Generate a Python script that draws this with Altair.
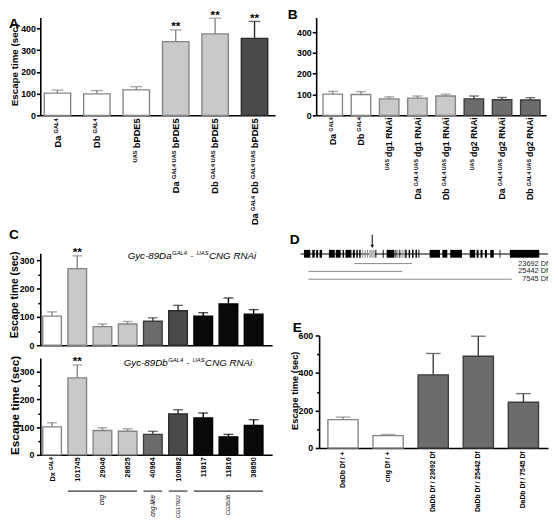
import re
import altair as alt
import pandas as pd

FONT = "Liberation Sans"

# ---------------- data ----------------
a_labels = ["Da ^(GAL4)", "Db ^(GAL4)", "^(UAS) bPDE5", "Da ^(GAL4 UAS) bPDE5",
            "Db ^(GAL4 UAS) bPDE5", "Da ^(GAL4) Db ^(GAL4 UAS) bPDE5"]
a_vals = [102, 99, 117, 339, 375, 354]
a_errs = [14, 15, 15, 54, 72, 78]
a_shades = ["white", "white", "white", "light", "light", "dark"]
a_sig = ["", "", "", "**", "**", "**"]

b_labels = ["Da ^(GAL4)", "Db ^(GAL4)", "^(UAS) dg1 RNAi", "Da ^(GAL4 UAS) dg1 RNAi",
            "Db ^(GAL4 UAS) dg1 RNAi", "^(UAS) dg2 RNAi", "Da ^(GAL4 UAS) dg2 RNAi",
            "Db ^(GAL4 UAS) dg2 RNAi"]
b_vals = [102, 100, 79, 83, 93, 79, 75, 74]
b_errs = [13, 14, 10, 10, 9, 14, 11, 11]
b_shades = ["white", "white", "light", "light", "light", "mid", "mid", "mid"]

c_labels = ["Dx ^(GAL4)", "101745", "29046", "28625", "40964", "100882", "11817", "11816", "38850"]
c_shades = ["white", "light", "light", "light", "mid", "dark", "black", "black", "black"]
c1_vals = [103, 271, 66, 75, 85, 122, 103, 146, 110]
c1_errs = [15, 45, 9, 9, 12, 19, 12, 21, 16]
c1_sig = ["", "**", "", "", "", "", "", "", ""]
c2_vals = [101, 278, 88, 85, 74, 148, 133, 65, 106]
c2_errs = [15, 47, 10, 9, 11, 15, 18, 9, 21]
c2_sig = ["", "**", "", "", "", "", "", "", ""]
c1_title = "Gyc-89Da^(GAL4) - ^(UAS)CNG RNAi"
c2_title = "Gyc-89Db^(GAL4) - ^(UAS)CNG RNAi"
c_groups = ["cng", "cng-like", "CG17922", "CG3536"]
c_group_first = ["101745", "40964", "100882", "11817"]
c_group_last = ["28625", "40964", "100882", "38850"]
c_group_mid = ["29046", "40964", "100882", "11816"]
c_group_italic = [True, True, False, False]

# D: gene model (positions along the locus, schematic units)
d_black_start = [7.5, 16, 20, 23.5, 33, 40, 47, 50, 57.5, 61, 64, 80.5, 88, 92, 101, 105, 111,
                 114.5, 118, 121.5, 124.5, 136, 149, 157, 177, 184, 188, 192.5, 198, 207.5, 218]
d_black_end = [14, 18.5, 22, 26, 39, 45, 48.5, 56, 59.5, 62.5, 65.5, 81.5, 89, 100, 102, 106, 112.5,
               116, 119.5, 123, 125.5, 146.5, 154, 169, 182.5, 186, 190, 194.5, 201.5, 208.3, 248]
d_gray_start = [67, 69.5, 72, 103, 107.5, 109.5]
d_gray_end = [68, 70.5, 73, 104, 108.5, 110.5]
d_hit_start = [74]
d_hit_end = [80]
d_arrow_pos = [77.3]
d_locus = [4, 257]
d_df_names = ["23692 Df", "25442 Df", "7545 Df"]
d_df_start = [59, 12, 12]
d_df_end = [118, 108, 220]
d_df_row = [10.5, 18.5, 26.5]

e_labels = ["DaDb Df / +", "cng Df / +", "DaDb Df / 23692 Df", "DaDb Df / 25442 Df", "DaDb Df / 7545 Df"]
e_vals = [151, 66, 390, 489, 244]
e_errs = [14, 6, 114, 107, 46]
e_shades = ["white", "white", "mid", "mid", "mid"]

# ---------------- styling helpers ----------------
FILL = {"white": "#ffffff", "light": "#c9c9c9", "mid": "#6c6c6c", "dark": "#4a4a4a", "black": "#0a0a0a"}
STROKE = {"white": "#858585", "light": "#858585", "mid": "#3c3c3c", "dark": "#2a2a2a", "black": "#000000"}

REG = {" ": 278, "-": 333, "/": 278, "+": 584, "*": 389, "(": 333, ")": 333,
       "A": 667, "B": 667, "C": 722, "D": 722, "E": 667, "F": 611, "G": 778, "H": 722, "I": 278,
       "K": 667, "L": 556, "M": 833, "N": 722, "O": 778, "P": 667, "R": 722, "S": 667, "T": 611,
       "U": 722, "a": 556, "b": 556, "c": 500, "d": 556, "e": 556, "f": 278, "g": 556, "h": 556,
       "i": 222, "k": 500, "l": 222, "m": 833, "n": 556, "o": 556, "p": 556, "r": 333, "s": 500,
       "t": 278, "u": 556, "x": 500, "y": 500}
BOLD = {" ": 278, "-": 333, "/": 278, "+": 584, "*": 389,
        "A": 722, "B": 722, "C": 722, "D": 722, "E": 667, "F": 611, "G": 778, "H": 722, "I": 278,
        "K": 722, "L": 611, "M": 833, "N": 722, "O": 778, "P": 667, "R": 722, "S": 667, "T": 611,
        "U": 722, "a": 556, "b": 611, "c": 556, "d": 611, "e": 556, "f": 333, "g": 611, "h": 611,
        "i": 278, "k": 556, "l": 278, "m": 889, "n": 611, "o": 611, "p": 611, "r": 389, "s": 556,
        "t": 333, "u": 611, "x": 556, "y": 556}


def tw(s, size, bold):
    tab = BOLD if bold else REG
    return sum(tab.get(ch, 556) for ch in s) * size / 1000.0


def plain(markup):
    return re.sub(r"\s+", " ", re.sub(r"\^\(([^)]*)\)", r" \1 ", markup)).strip()


def pieces(markup, fs, fss, bold):
    out = []
    for sup, main in re.findall(r"\^\(([^)]*)\)|([^^]+)", markup):
        if sup:
            out.append((sup, fss, tw(sup, fss, bold), True))
        else:
            lead = len(main) - len(main.lstrip(" "))
            trail = len(main) - len(main.rstrip(" "))
            core = main.strip(" ")
            if lead:
                out.append((None, 0, lead * 0.278 * fs * 0.85, False))
            if core:
                out.append((core, fs, tw(core, fs, bold), False))
            if trail:
                out.append((None, 0, trail * 0.278 * fs * 0.85, False))
    return out


def rot_labels(cats, markups, xenc, ypix, fs, fss):
    layers = []
    main_dy = 0.358 * fs
    sup_dy = main_dy - 0.716 * (fs - fss) - 0.4
    for cat, mk in zip(cats, markups):
        items = pieces(mk, fs, fss, True)
        widths = [w for _, _, w, _ in items]
        for i, (t, size, w, sup) in enumerate(items):
            if t is None:
                continue
            after = sum(widths[i + 1:])
            layers.append(
                alt.Chart(pd.DataFrame({"cat": [cat], "t": [t]}))
                .mark_text(angle=270, align="right", baseline="alphabetic", dx=-after,
                           dy=sup_dy if sup else main_dy, fontSize=size, fontWeight="bold",
                           font=FONT, color="black")
                .encode(x=xenc(), y=alt.value(ypix), text="t:N"))
    return layers


def rich_title(markup, cat, yval, xenc, yenc, fs, fss, dx0):
    layers = []
    items = pieces(markup, fs, fss, False)
    main_dy = 0.358 * fs
    sup_dy = main_dy - 0.716 * (fs - fss) - 1.2
    pos = dx0
    for t, size, w, sup in items:
        if t is not None:
            layers.append(
                alt.Chart(pd.DataFrame({"cat": [cat], "yy": [yval], "t": [t]}))
                .mark_text(align="left", baseline="alphabetic", dx=pos,
                           dy=sup_dy if sup else main_dy, fontSize=size, fontStyle="italic",
                           font=FONT, color="black")
                .encode(x=xenc(), y=yenc("yy"), text="t:N"))
        pos += w + 0.4
    return layers


def yaxis(ticks, title=None, tfs=10.5, tx=0, ty=0, minor=None):
    kw = dict(values=ticks, format="d", grid=False, domainColor="black", domainWidth=1.6,
              tickColor="black", tickWidth=1.6, tickSize=4, labelFont=FONT, labelFontWeight="bold",
              labelFontSize=9, labelColor="black", labelPadding=1)
    if minor:
        step = ticks[1] - ticks[0]
        kw["values"] = list(range(0, ticks[-1] + 1, minor))
        kw["labelExpr"] = f"datum.value % {step} === 0 ? datum.label : ''"
        kw["tickSize"] = {"condition": {"test": f"datum.value % {step} === 0", "value": 4}, "value": 2.5}
        kw["labelPadding"] = 2.5
    if title:
        kw.update(title=title, titleFont=FONT, titleFontWeight="bold", titleFontSize=tfs,
                  titleColor="black", titleAngle=270, titleAlign="center", titleBaseline="middle",
                  titleX=tx, titleY=ty)
    else:
        kw.update(title=None)
    return alt.Axis(**kw)


def bar_panel(cats, vals, errs, shades, sig, ymax, yax, xax, pi, po, align, capw):
    df = pd.DataFrame({"cat": cats, "val": vals,
                       "hi": [v + e for v, e in zip(vals, errs)],
                       "fill": [FILL[s] for s in shades],
                       "stroke": [STROKE[s] for s in shades],
                       "sig": sig})
    xscale = alt.Scale(domain=cats, paddingInner=pi, paddingOuter=po, align=align)
    yscale = alt.Scale(domain=[0, ymax], nice=False, zero=True)

    def xenc(field="cat", **kw):
        return alt.X(field + ":N", scale=xscale, axis=xax, **kw)

    def yenc(f):
        return alt.Y(f + ":Q", scale=yscale, axis=yax)

    base = alt.Chart(df)
    err = base.mark_rule(strokeWidth=1.4).encode(
        x=xenc(), y=yenc("val"), y2="hi:Q", color=alt.Color("stroke:N", scale=None))
    bars = base.mark_bar(strokeWidth=1.4).encode(
        x=xenc(), y=yenc("val"), fill=alt.Fill("fill:N", scale=None),
        stroke=alt.Stroke("stroke:N", scale=None))
    cap = base.mark_tick(thickness=1.4, size=capw).encode(
        x=xenc(), y=yenc("hi"), color=alt.Color("stroke:N", scale=None))
    layers = [err, bars, cap]
    if any(sig):
        layers.append(base.mark_text(fontSize=12, fontWeight="bold", baseline="alphabetic", dy=0.5,
                                     font=FONT, color="black")
                      .encode(x=xenc(), y=yenc("hi"), text="sig:N"))
    return layers, xenc, yenc


def letter(t, dx, dy):
    return alt.TitleParams(text=t, anchor="start", frame="group", dx=dx, dy=dy, offset=0,
                           baseline="bottom", fontSize=14, fontWeight="bold", font=FONT, color="black")


XAX = alt.Axis(title=None, labels=False, ticks=False, domainColor="black", domainWidth=1.6)

# ---------------- panel A ----------------
a_cats = [plain(s) for s in a_labels]
A_W, A_H = 240, 100
la, xa, ya = bar_panel(a_cats, a_vals, a_errs, a_shades, a_sig, 450,
                       yaxis([0, 100, 200, 300, 400], "Escape time (sec)", 10, -26.5, 48),
                       XAX, 0.33, 0.143, 0.35, 12)
la += rot_labels(a_cats, a_labels, xa, A_H + 3, 9.5, 5.8)
panelA = alt.layer(*la).properties(width=A_W, height=A_H, title=letter("A", -32, 37))

# ---------------- panel B ----------------
b_cats = [plain(s) for s in b_labels]
B_W, B_H = 235, 100
lb, xb, yb = bar_panel(b_cats, b_vals, b_errs, b_shades, [""] * 8, 470,
                       yaxis([0, 100, 200, 300, 400]), XAX, 0.31, 0.227, 0.53, 10)
lb += rot_labels(b_cats, b_labels, xb, B_H + 2, 9, 5.5)
panelB = alt.layer(*lb).properties(width=B_W, height=B_H, title=letter("B", -29, 19))

# ---------------- panel C ----------------
c_cats = [plain(s) for s in c_labels]
C_W = 237
C1_H, C2_H = 94, 99
lc1, xc1, yc1 = bar_panel(c_cats, c1_vals, c1_errs, c_shades, c1_sig, 325,
                          yaxis([0, 100, 200, 300], "Escape time (sec)", 10.5, -26.5, 42, minor=50),
                          XAX, 0.26, 0.231, 0.21, 10)
lc1 += rich_title(c1_title, "28625", 318, xc1, yc1, 10, 6, 0)
panelC1 = alt.layer(*lc1).properties(width=C_W, height=C1_H, title=letter("C", -32, 9.5))

c_yax = yaxis([0, 100, 200, 300], "Escape time (sec)", 12, -26, 48, minor=50)
lc2, xc2, yc2 = bar_panel(c_cats, c2_vals, c2_errs, c_shades, c2_sig, 350, c_yax,
                          XAX, 0.26, 0.231, 0.21, 10)
lc2 += rich_title(c2_title, "28625", 334, xc2, yc2, 10, 6, -4)
lc2 += rot_labels(c_cats, c_labels, xc2, C2_H + 2.5, 7.5, 5)

grp = pd.DataFrame({"g": c_groups, "first": c_group_first, "last": c_group_last,
                    "mid": c_group_mid, "yy": [-131] * 4, "ty": [-145] * 4})
brackets = alt.Chart(grp).mark_rule(color="#333333", strokeWidth=1.2).encode(
    x=xc2("first", bandPosition=0),
    x2=alt.X2("last:N", bandPosition=1),
    y=yc2("yy"))
lc2.append(brackets)
for g, ital in zip(c_groups, c_group_italic):
    sub = grp[grp.g == g]
    lc2.append(alt.Chart(sub).mark_text(
        angle=270, align="right", baseline="middle", fontSize=6.5 if ital else 5.5,
        fontStyle="italic" if ital else "normal", font=FONT, color="black").encode(
        x=xc2("mid"), y=yc2("ty"), text="g:N"))
panelC2 = alt.layer(*lc2).properties(width=C_W, height=C2_H)

# ---------------- panel D ----------------
D_W, D_H = 234, 30
dxs = alt.Scale(domain=[23, 257], nice=False, zero=False)
dys = alt.Scale(domain=[0, 30], reverse=True, nice=False, zero=False)


def dX(f):
    return alt.X(f + ":Q", scale=dxs, axis=None)


def dY(f):
    return alt.Y(f + ":Q", scale=dys, axis=None)


ex = pd.DataFrame({
    "s": d_black_start + d_gray_start + d_hit_start,
    "e": d_black_end + d_gray_end + d_hit_end,
    "c": ["#000000"] * len(d_black_start) + ["#8c8c8c"] * len(d_gray_start) + ["#b8b8b8"] * len(d_hit_start),
})
ex["y0"] = -3.5
ex["y1"] = 4.5
locus = pd.DataFrame({"x": [d_locus[0]], "x2": [d_locus[1]], "y": [0.7]})
arrow = pd.DataFrame({"x": d_arrow_pos, "y0": [-19.0], "y1": [-8.0], "yt": [-7.0]})
dfl = pd.DataFrame({"n": d_df_names, "s": d_df_start, "e": d_df_end, "y": d_df_row,
                    "xe": [d_locus[1]] * 3})

d_layers = [
    alt.Chart(locus).mark_rule(color="black", strokeWidth=1.2).encode(x=dX("x"), x2="x2:Q", y=dY("y")),
    alt.Chart(ex).mark_rect().encode(x=dX("s"), x2="e:Q", y=dY("y0"), y2="y1:Q",
                                     color=alt.Color("c:N", scale=None)),
    alt.Chart(arrow).mark_rule(color="black", strokeWidth=1).encode(x=dX("x"), y=dY("y0"), y2="y1:Q"),
    alt.Chart(arrow).mark_point(shape="triangle-down", filled=True, size=14, color="black", opacity=1)
    .encode(x=dX("x"), y=dY("yt")),
    alt.Chart(dfl).mark_rule(color="#8a8a8a", strokeWidth=1).encode(x=dX("s"), x2="e:Q", y=dY("y")),
    alt.Chart(dfl).mark_text(align="right", baseline="middle", fontSize=7.5, font=FONT, color="#222222")
    .encode(x=dX("xe"), y=dY("y"), text="n:N"),
]
panelD = alt.layer(*d_layers).properties(width=D_W, height=D_H, title=letter("D", -30, 27.5))

# ---------------- panel E ----------------
E_W, E_H = 234, 115
EXAX = alt.Axis(title=None, ticks=False, domainColor="black", domainWidth=1.6, labelAngle=270,
                labelFont=FONT, labelFontSize=7, labelFontWeight="bold", labelColor="black",
                labelPadding=3, labelLimit=200)
le, xe, ye = bar_panel(e_labels, e_vals, e_errs, e_shades, [""] * 5, 600,
                       yaxis([0, 200, 400, 600], "Escape time (sec)", 9.5, -25.5, 56, minor=100),
                       EXAX, 0.33, 0.203, 0.48, 15)
panelE = alt.layer(*le).properties(width=E_W, height=E_H, title=letter("E", -27, 17))

# ---------------- layout ----------------
top = alt.hconcat(panelA, panelB, spacing=42, bounds="flush")
left = alt.vconcat(panelC1, panelC2, spacing=13, bounds="flush")
right = alt.vconcat(panelD, panelE, spacing=54, bounds="flush")
bottom = alt.hconcat(left, right, spacing=16)
chart = (alt.vconcat(top, bottom, spacing=2)
         .properties(padding={"left": 0, "top": -6, "right": 0, "bottom": 0}, background="white")
         .configure(font=FONT)
         .configure_view(stroke="transparent"))

chart.save("out.html", embed_options={"renderer": "svg", "actions": False})
